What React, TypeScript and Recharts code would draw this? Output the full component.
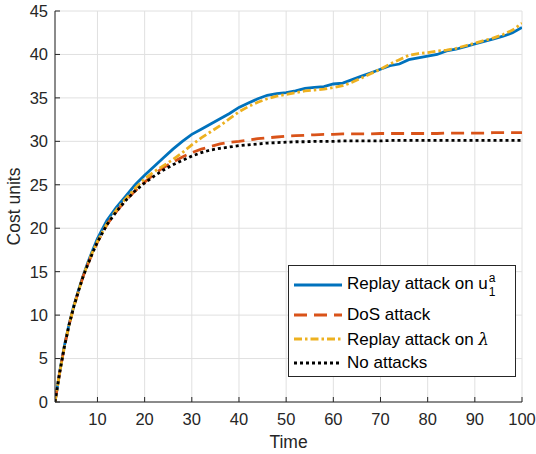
import React from "react"
import { CartesianGrid, Label, Legend, Line, LineChart, XAxis, YAxis } from "recharts"

// time steps and cost series
const timeSteps = [
  1, 2, 3, 4, 5, 6, 7, 8, 9, 10,
  12, 14, 16, 18, 20, 22, 24, 26, 28, 30, 32, 34, 36, 38, 40, 42, 44, 46, 48, 50,
  52, 54, 56, 58, 60, 62, 64, 66, 68, 70, 72, 74, 76, 78, 80, 82, 84, 86, 88, 90,
  92, 94, 96, 98, 100,
]
const replayU = [
  0, 3.5, 6.5, 9.0, 11.1, 12.9, 14.6, 16.1, 17.5, 18.8,
  20.9, 22.4, 23.7, 25.0, 26.1, 27.1, 28.1, 29.1, 30.0, 30.8, 31.4, 32.0, 32.6, 33.2, 33.9,
  34.4, 34.9, 35.3, 35.5, 35.6, 35.8, 36.1, 36.2, 36.3, 36.6, 36.7, 37.1, 37.5, 37.9, 38.3,
  38.7, 38.9, 39.4, 39.6, 39.8, 40.0, 40.4, 40.6, 40.9, 41.2, 41.5, 41.8, 42.1, 42.5, 43.1,
]
const dosAttack = [
  0, 3.4, 6.4, 8.9, 11.0, 12.8, 14.5, 15.9, 17.2, 18.4,
  20.4, 21.9, 23.2, 24.3, 25.3, 26.2, 27.0, 27.6, 28.2, 28.7, 29.1, 29.4, 29.7, 29.9, 30.0,
  30.15, 30.3, 30.4, 30.5, 30.6, 30.65, 30.7, 30.75, 30.8, 30.8, 30.85, 30.85, 30.85, 30.85, 30.9,
  30.9, 30.9, 30.9, 30.9, 30.9, 30.9, 30.95, 30.95, 30.95, 30.95, 30.95, 31.0, 31.0, 31.0, 31.0,
]
const replayLambda = [
  0, 3.4, 6.4, 8.9, 11.0, 12.8, 14.5, 16.0, 17.3, 18.5,
  20.5, 22.1, 23.4, 24.6, 25.7, 26.5, 27.2, 27.9, 28.7, 29.6, 30.4, 31.1, 31.8, 32.6, 33.4,
  34.0, 34.5, 34.9, 35.2, 35.4, 35.6, 35.8, 35.9, 36.0, 36.2, 36.4, 36.8, 37.3, 37.8, 38.3,
  38.9, 39.4, 39.9, 40.1, 40.2, 40.4, 40.5, 40.7, 41.0, 41.3, 41.6, 41.9, 42.3, 42.8, 43.6,
]
const noAttack = [
  0, 3.4, 6.4, 8.9, 11.0, 12.8, 14.5, 15.9, 17.2, 18.4,
  20.4, 21.9, 23.2, 24.3, 25.2, 26.0, 26.7, 27.3, 27.8, 28.3, 28.7, 29.0, 29.2, 29.35, 29.5,
  29.6, 29.7, 29.8, 29.85, 29.9, 29.95, 29.95, 30.0, 30.0, 30.0, 30.05, 30.05, 30.05, 30.05, 30.05,
  30.1, 30.1, 30.1, 30.1, 30.1, 30.1, 30.1, 30.1, 30.1, 30.1, 30.1, 30.1, 30.1, 30.1, 30.1,
]
const xTicks = [10, 20, 30, 40, 50, 60, 70, 80, 90, 100]
const yTicks = [0, 5, 10, 15, 20, 25, 30, 35, 40, 45]

const data = timeSteps.map((t, i) => ({
  t,
  replayU: replayU[i],
  dos: dosAttack[i],
  replayLambda: replayLambda[i],
  none: noAttack[i],
}))

const font = "'Liberation Sans', Arial, Helvetica, sans-serif"
const axisColor = "#262626"
const tickStyle = { fontSize: 16.5, fill: axisColor, fontFamily: font }

const series = [
  { key: "replayU", color: "#0072BD", dash: undefined },
  { key: "dos", color: "#D95319", dash: "13 7" },
  { key: "replayLambda", color: "#EDB120", dash: "8 3 2.5 3" },
  { key: "none", color: "#000000", dash: "3 3" },
]

const legendLabels: React.ReactNode[] = [
  <span>
    Replay attack on u
    <span style={{ display: "inline-flex", flexDirection: "column", verticalAlign: "middle", fontSize: 12, lineHeight: "14px", marginLeft: 1 }}>
      <span>a</span>
      <span>1</span>
    </span>
  </span>,
  <span>DoS attack</span>,
  <span>
    Replay attack on <span style={{ fontStyle: "italic", fontFamily: "'DejaVu Serif', serif" }}>λ</span>
  </span>,
  <span>No attacks</span>,
]
const rowHeights = [37, 24, 24, 24]

const LegendBox = () => (
  <div style={{ border: `1px solid ${axisColor}`, background: "#fff", paddingLeft: 5, paddingBottom: 1, fontFamily: font, fontSize: 17, color: "#000" }}>
    {series.map((s, i) => (
      <div key={s.key} style={{ display: "flex", alignItems: "center", height: rowHeights[i] }}>
        <svg width={48} height={8} style={{ flexShrink: 0 }}>
          <line x1={0} y1={4} x2={48} y2={4} stroke={s.color} strokeWidth={2.8} strokeDasharray={s.dash} />
        </svg>
        <span style={{ marginLeft: 5, whiteSpace: "nowrap" }}>{legendLabels[i]}</span>
      </div>
    ))}
  </div>
)

const YLabel = (props: any) => {
  const vb = props.viewBox || {}
  const cy = vb.y + vb.height / 2
  return (
    <text x={20} y={cy} transform={`rotate(-90 20 ${cy})`} textAnchor="middle" fontSize={17.5} fill={axisColor} fontFamily={font}>
      Cost units
    </text>
  )
}

export default function App() {
  return (
    <div style={{ position: "absolute", left: 0, top: 0, background: "#fff" }}>
      <LineChart width={536} height={454} data={data} margin={{ top: 11, right: 14, bottom: 0, left: 0 }}>
        <CartesianGrid stroke="#e0e0e0" strokeWidth={1} />
        <XAxis
          dataKey="t"
          type="number"
          domain={[1, 100]}
          ticks={xTicks}
          height={52}
          tickSize={-5}
          tickMargin={16}
          stroke={axisColor}
          tick={tickStyle}
          allowDataOverflow
        >
          <Label value="Time" position="insideBottom" offset={6} style={{ fontSize: 17.5, fill: axisColor, fontFamily: font }} />
        </XAxis>
        <XAxis xAxisId="top" orientation="top" type="number" domain={[1, 100]} ticks={xTicks} height={0} tickSize={-5} tick={false} stroke={axisColor} allowDataOverflow />
        <YAxis
          type="number"
          domain={[0, 45]}
          ticks={yTicks}
          width={55}
          tickSize={-5}
          tickMargin={12}
          stroke={axisColor}
          tick={tickStyle}
          allowDataOverflow
        >
          <Label content={YLabel} />
        </YAxis>
        <YAxis yAxisId="right" orientation="right" type="number" domain={[0, 45]} ticks={yTicks} width={0} tickSize={-5} tick={false} stroke={axisColor} allowDataOverflow />
        {series.map((s) => (
          <Line
            key={s.key}
            type="linear"
            dataKey={s.key}
            stroke={s.color}
            strokeWidth={2.8}
            strokeDasharray={s.dash}
            dot={false}
            activeDot={false}
            isAnimationActive={false}
          />
        ))}
        <Legend
          layout="vertical"
          align="center"
          verticalAlign="middle"
          content={LegendBox}
          wrapperStyle={{ position: "absolute", left: 288, top: 265, width: 228 }}
        />
      </LineChart>
    </div>
  )
}
